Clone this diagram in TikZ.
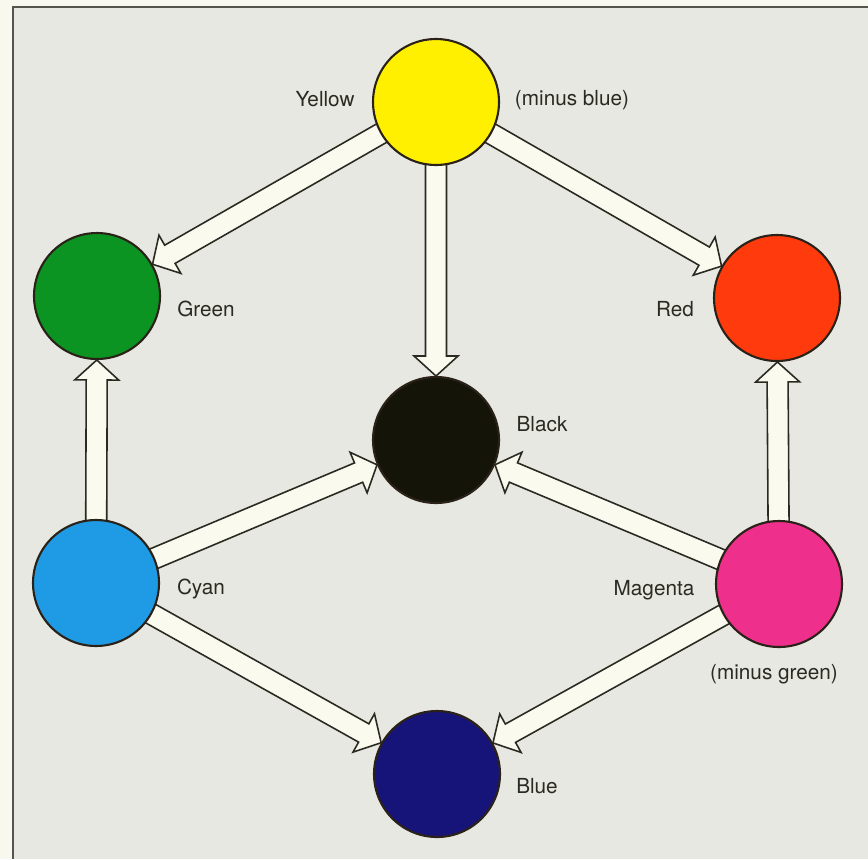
\documentclass[tikz,border=0pt]{standalone}
\usepackage{fontspec}
\setmainfont{TeX Gyre Heros}
\usetikzlibrary{calc}
\pgfdeclarelayer{bg}
\pgfdeclarelayer{arr}
\pgfsetlayers{bg,arr,main}
\definecolor{paper}{HTML}{F8F8EF}
\definecolor{panel}{HTML}{E8E8E2}
\definecolor{ink}{HTML}{2A2A22}
\definecolor{rim}{HTML}{2A2218}
\definecolor{arrowfill}{HTML}{FAFAEF}
\definecolor{cYellow}{HTML}{FFF000}
\definecolor{cGreen}{HTML}{0C9422}
\definecolor{cRed}{HTML}{FF3A0C}
\definecolor{cBlack}{HTML}{141409}
\definecolor{cCyan}{HTML}{1E9BE4}
\definecolor{cMagenta}{HTML}{EE2F8C}
\definecolor{cBlue}{HTML}{161478}
% hollow block arrow from the centre of #1 to the rim of #2
\newcommand{\hollowarrow}[2]{%
  \begin{pgfonlayer}{arr}
    \coordinate (tip) at ($(#2.center)!1.28cm!(#1.center)$);
    \coordinate (neck) at ($(tip)!0.40cm!(#1.center)$);
    \draw[blockarrow] ($(#1.center)!0.21cm!90:(tip)$) -- ($(neck)!0.21cm!-90:(#1.center)$)
      -- ($(neck)!0.44cm!-90:(#1.center)$) -- (tip) -- ($(neck)!0.44cm!90:(#1.center)$)
      -- ($(neck)!0.21cm!90:(#1.center)$) -- ($(#1.center)!0.21cm!-90:(tip)$) -- cycle;
  \end{pgfonlayer}}
\begin{document}
\begin{tikzpicture}[x=0.02cm,y=-0.02cm,
    dot/.style={circle,draw=rim,line width=1.2pt,minimum size=2.52cm,inner sep=0pt},
    lbl/.style={text=ink,font=\fontsize{11.8}{14}\selectfont},
    blockarrow/.style={draw=ink,fill=arrowfill,line width=0.9pt,line join=miter}]
  \useasboundingbox (0,0) rectangle (868,859);
  \begin{pgfonlayer}{bg}
    \fill[paper] (0,0) rectangle (868,859);
    \fill[panel] (13,7) rectangle (868,859);
    \draw[ink!80,line width=1pt] (13,859) -- (13,7) -- (868,7);
  \end{pgfonlayer}
  % colour circles
  \node[dot,fill=cYellow] (yellow) at (436,102) {};
  \node[dot,fill=cGreen] (green) at (97,296) {};
  \node[dot,fill=cRed] (red) at (777,298) {};
  \node[dot,fill=cBlack] (black) at (436,440) {};
  \node[dot,fill=cCyan] (cyan) at (96,583) {};
  \node[dot,fill=cMagenta] (magenta) at (779,584) {};
  \node[dot,fill=cBlue] (blue) at (437,774) {};
  % labels
  \node[lbl] (yellowlbl) at (325,99) {Yellow};
  \node[lbl] (yellownote) at (572,100) {(minus blue)};
  \node[lbl] (greenlbl) at (206,309) {Green};
  \node[lbl] (redlbl) at (675,309) {Red};
  \node[lbl] (blacklbl) at (542,424) {Black};
  \node[lbl] (cyanlbl) at (201,589) {Cyan};
  \node[lbl] (magentalbl) at (654,590) {Magenta};
  \node[lbl] (magentanote) at (774,674) {(minus green)};
  \node[lbl] (bluelbl) at (537,786) {Blue};
  % arrows
  \hollowarrow{yellow}{green}
  \hollowarrow{yellow}{black}
  \hollowarrow{yellow}{red}
  \hollowarrow{cyan}{green}
  \hollowarrow{cyan}{black}
  \hollowarrow{cyan}{blue}
  \hollowarrow{magenta}{red}
  \hollowarrow{magenta}{black}
  \hollowarrow{magenta}{blue}
\end{tikzpicture}
\end{document}
